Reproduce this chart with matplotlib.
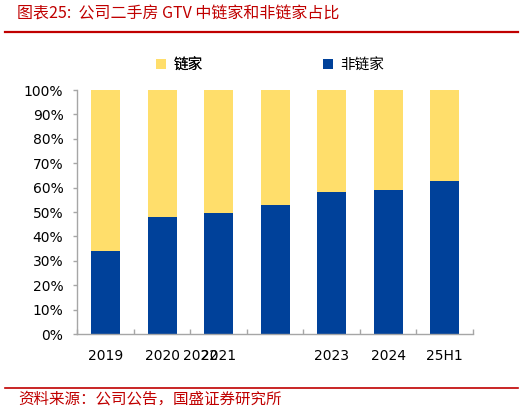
import matplotlib
matplotlib.use("Agg")
import matplotlib.pyplot as plt
import matplotlib.transforms as mtransforms
from matplotlib.patches import Patch
from matplotlib.lines import Line2D
import numpy as np

plt.rcParams['font.family'] = ['DejaVu Sans', 'Noto Sans CJK SC']

categories = ["2019", "2020", "2021", "2022", "2023", "2024", "25H1"]
non_lianjia = [34.0, 47.9, 49.6, 52.9, 58.2, 59.0, 62.8]
lianjia = [100 - v for v in non_lianjia]
ytick_values = list(range(0, 101, 10))
ytick_labels = [f"{v}%" for v in ytick_values]

blue = "#00419A"
yellow = "#FFDE6B"
red = "#C00000"
grey = "#A6A6A6"

W, H = 531, 412
fig = plt.figure(figsize=(W / 100, H / 100), dpi=100)
ax = fig.add_axes([77.3 / W, 1 - 334 / H, (473 - 77.3) / W, (334 - 90) / H])

x = np.arange(len(categories))
ax.bar(x, non_lianjia, width=0.51, color=blue, zorder=2)
ax.bar(x, lianjia, bottom=non_lianjia, width=0.51, color=yellow, zorder=2)

ax.set_xlim(-0.5, len(categories) - 0.5)
ax.set_ylim(0, 100)
ax.set_yticks(ytick_values)
ax.set_yticklabels(ytick_labels, fontsize=10)

ax.set_xticks(x)
ax.set_xticklabels(categories, fontsize=10)
ax.tick_params(axis='x', length=0, pad=11)
ax.set_xticks(np.arange(-0.5, len(categories), 1.0), minor=True)
ax.tick_params(axis='x', which='minor', direction='in', length=3.5, color=grey, width=1)
ax.tick_params(axis='y', direction='out', length=3, color=grey, width=1, pad=7)

# the 2022 label is displaced to the left in the reference
lbl = ax.get_xticklabels()[3]
lbl.set_transform(lbl.get_transform() + mtransforms.ScaledTranslation(-74.4 / 100, 0, fig.dpi_scale_trans))

for s in ['top', 'right']:
    ax.spines[s].set_visible(False)
for s in ['left', 'bottom']:
    ax.spines[s].set_color(grey)
    ax.spines[s].set_linewidth(1)

# Legend
cjk = ['Noto Sans CJK SC', 'DejaVu Sans']
leg1 = fig.legend(handles=[Patch(facecolor=yellow, edgecolor='none')], labels=["链家"],
                  loc='center left', bbox_to_anchor=(143 / W, 1 - 65 / H), frameon=False,
                  handlelength=0.7, handleheight=0.7, handletextpad=0.5,
                  prop={'family': cjk, 'size': 10.5})
fig.add_artist(leg1)
leg2 = fig.legend(handles=[Patch(facecolor=blue, edgecolor='none')], labels=["非链家"],
                  loc='center left', bbox_to_anchor=(310 / W, 1 - 65 / H), frameon=False,
                  handlelength=0.7, handleheight=0.7, handletextpad=0.5,
                  prop={'family': cjk, 'size': 10.5})

# Title and source
fig.text(17 / W, 1 - 14 / H, "图表25:  公司二手房 GTV 中链家和非链家占比", color=red,
         fontsize=11.5, family=cjk, style='italic', ha='left', va='center')
fig.add_artist(Line2D([5 / W, 518 / W], [1 - 32 / H, 1 - 32 / H], color=red, linewidth=1.6,
                      transform=fig.transFigure))
fig.add_artist(Line2D([5 / W, 518 / W], [1 - 388 / H, 1 - 388 / H], color=red, linewidth=1.2,
                      transform=fig.transFigure))
fig.text(18 / W, 1 - 399 / H, "资料来源：公司公告，国盛证券研究所", color=red,
         fontsize=11.2, family=cjk, style='italic', ha='left', va='center')

fig.savefig("out.png", dpi=100)
